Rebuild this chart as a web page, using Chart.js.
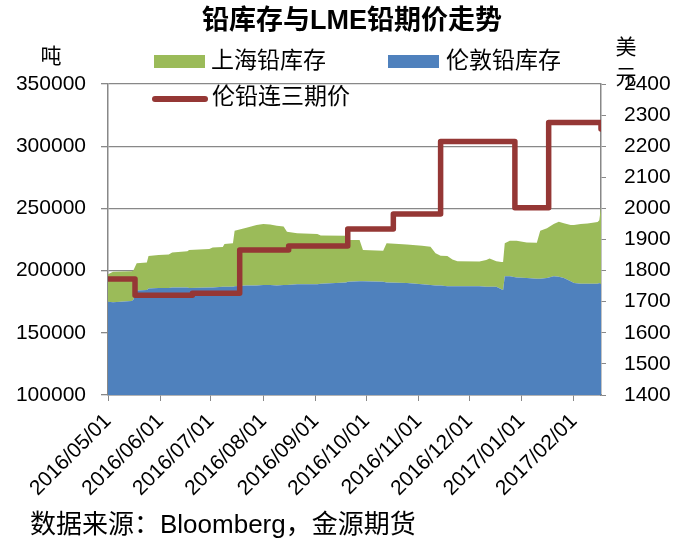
<!DOCTYPE html>
<html><head><meta charset="utf-8">
<script src="https://cdn.jsdelivr.net/npm/chart.js@4.4.1/dist/chart.umd.min.js"></script>
<style>html,body{margin:0;padding:0;background:#fff;}canvas{display:block;}</style>
</head><body>
<canvas id="c" width="677" height="547"></canvas>
<script>
// ---------------- DATA ----------------
const titleText = '铅库存与LME铅期价走势';
const sourceText = '数据来源：Bloomberg，金源期货';
const leftUnit = '吨';
const rightUnit = ['美', '元'];
const startDate = [2016, 5, 1];            // day 0 of the x axis
const xTickLabels = ['2016/05/01','2016/06/01','2016/07/01','2016/08/01','2016/09/01',
                     '2016/10/01','2016/11/01','2016/12/01','2017/01/01','2017/02/01'];
const lastDay = 292;                        // 2017/02/17

// stock series (days since 2016/05/01)
const stockDays = [0,3,14,15,17,23,24,30,36,38,47,48,60,62,68,69,74,75,82,88,92,96,100,104,106,112,124,126,
  141,142,149,151,163,165,177,186,191,194,197,201,204,207,220,224,226,230,233,234,235,238,242,248,254,256,
  260,264,267,270,274,276,280,284,290,291,292];
const londonStock = [175000,174500,175500,176500,184000,184500,185700,186000,186000,186500,186500,186000,186500,
  186500,187000,187000,187000,187500,188000,188000,188500,188500,188000,188500,188500,189000,189000,189500,
  190500,191000,191500,191500,191000,190500,190000,189000,188500,188000,188000,187500,187500,187500,187500,
  187000,187000,187000,185000,184300,195500,195500,194500,194000,193500,193500,194000,195500,195000,194000,
  191500,190000,189500,189500,189500,190000,189000];
const shanghaiStock = [22000,24500,24000,23500,22000,22000,26000,26500,27000,28000,29000,30500,30800,32000,
  32000,34400,35000,44500,46500,48700,49000,48500,48000,47000,42800,41000,40400,38800,37500,33600,33000,
  25000,25000,31500,31000,31000,30700,26000,24000,24200,21500,20000,19800,21500,22800,20500,22000,22700,
  26500,28500,29500,28500,28900,38500,40000,42000,44300,44000,45200,46700,48000,48300,49500,50500,62000];

// LME 3-month lead price (step levels, start day of each level)
const priceDays   = [0,16,50,78,107,142,169,197,241,261,292];
const priceValues = [1773,1721,1727,1866,1879,1934,1982,2215,2002,2276,2255];

const seriesNames = {london:'伦敦铅库存', shanghai:'上海铅库存', price:'伦铅连三期价'};
const colors = {london:'#4F81BD', shanghai:'#9BBB59', price:'#953735', grid:'#888888'};

// ---------------- HELPERS ----------------
const FONT = '"Liberation Sans", "Noto Sans CJK SC", sans-serif';
const DAY0 = Date.UTC(startDate[0], startDate[1]-1, startDate[2]);
function dayOf(label){ const p = label.split('/').map(Number); return Math.round((Date.UTC(p[0],p[1]-1,p[2]) - DAY0)/86400000); }
const xTickDays = xTickLabels.map(dayOf);

Chart.defaults.font.family = FONT;
Chart.defaults.color = '#000';

const textPlugin = {
  id: 'texts',
  afterDraw(chart){
    const ctx = chart.ctx;
    ctx.save();
    ctx.fillStyle = '#000';
    ctx.textBaseline = 'middle';
    // title
    ctx.font = 'bold 27px ' + FONT;
    ctx.textAlign = 'center';
    ctx.fillText(titleText, 352, 22);
    // units
    ctx.font = '21px ' + FONT;
    ctx.fillText(leftUnit, 51, 57);
    ctx.fillText(rightUnit[0], 626, 48);
    ctx.fillText(rightUnit[1], 626, 78);
    // legend
    ctx.font = '23px ' + FONT;
    ctx.textAlign = 'left';
    const ds = chart.data.datasets;
    ctx.fillStyle = ds[1].backgroundColor; ctx.fillRect(154, 55, 51, 13);
    ctx.fillStyle = '#000'; ctx.fillText(ds[1].label, 211, 62);
    ctx.fillStyle = ds[0].backgroundColor; ctx.fillRect(388, 55, 51, 13);
    ctx.fillStyle = '#000'; ctx.fillText(ds[0].label, 446, 62);
    ctx.strokeStyle = ds[2].borderColor; ctx.lineWidth = 6; ctx.lineCap = 'round';
    ctx.beginPath(); ctx.moveTo(155, 99); ctx.lineTo(205, 99); ctx.stroke();
    ctx.fillText(ds[2].label, 212, 98);
    // source
    ctx.font = '26px ' + FONT;
    ctx.fillText(sourceText, 30, 526);
    ctx.restore();
  }
};

new Chart(document.getElementById('c'), {
  type: 'line',
  data: {
    datasets: [
      { label: seriesNames.london, data: stockDays.map((d,i)=>({x:d, y:londonStock[i]})),
        yAxisID: 'y', backgroundColor: colors.london, borderColor: colors.london, borderWidth: 0,
        fill: 'start', pointRadius: 0, tension: 0, order: 0 },
      { label: seriesNames.shanghai, data: stockDays.map((d,i)=>({x:d, y:shanghaiStock[i]})),
        yAxisID: 'y', backgroundColor: colors.shanghai, borderColor: colors.shanghai, borderWidth: 0,
        fill: '-1', pointRadius: 0, tension: 0, order: 0 },
      { label: seriesNames.price, data: priceDays.map((d,i)=>({x:d, y:priceValues[i]})),
        yAxisID: 'y1', borderColor: colors.price, backgroundColor: colors.price, borderWidth: 5.5,
        stepped: 'before', fill: false, pointRadius: 0, order: -1,
        borderJoinStyle: 'round', borderCapStyle: 'round' }
    ]
  },
  options: {
    responsive: false, animation: false, devicePixelRatio: 1,
    layout: { padding: { top: 84, left: 0, right: 0, bottom: 0 } },
    plugins: { legend: { display: false }, title: { display: false }, tooltip: { enabled: false } },
    scales: {
      x: {
        type: 'linear', min: 0, max: lastDay,
        afterBuildTicks: s => { s.ticks = xTickDays.map(v => ({ value: v })); },
        ticks: { autoSkip: false, minRotation: 45, maxRotation: 45, padding: 8,
                 font: { size: 21 }, color: '#000',
                 callback: v => { const i = xTickDays.indexOf(v); return i >= 0 ? xTickLabels[i] : ''; } },
        grid: { drawOnChartArea: false, drawTicks: true, tickLength: 6, color: colors.grid },
        border: { color: colors.grid, width: 1.5 },
        afterFit: s => { s.height = 152; }
      },
      y: {
        position: 'left', stacked: true, min: 100000, max: 350000,
        ticks: { stepSize: 50000, padding: 15, font: { size: 21 }, color: '#000', callback: v => String(v) },
        grid: { color: colors.grid, tickLength: 7, lineWidth: 1.3 },
        border: { color: colors.grid, width: 1.5 },
        afterFit: s => { s.width = 108; }
      },
      y1: {
        position: 'right', min: 1400, max: 2400,
        ticks: { stepSize: 100, padding: 18, font: { size: 21 }, color: '#000', callback: v => String(v) },
        grid: { drawOnChartArea: false, tickLength: 5, color: colors.grid },
        border: { color: colors.grid, width: 1.5 },
        afterFit: s => { s.width = 76; }
      }
    }
  },
  plugins: [textPlugin]
});
</script>
</body></html>
